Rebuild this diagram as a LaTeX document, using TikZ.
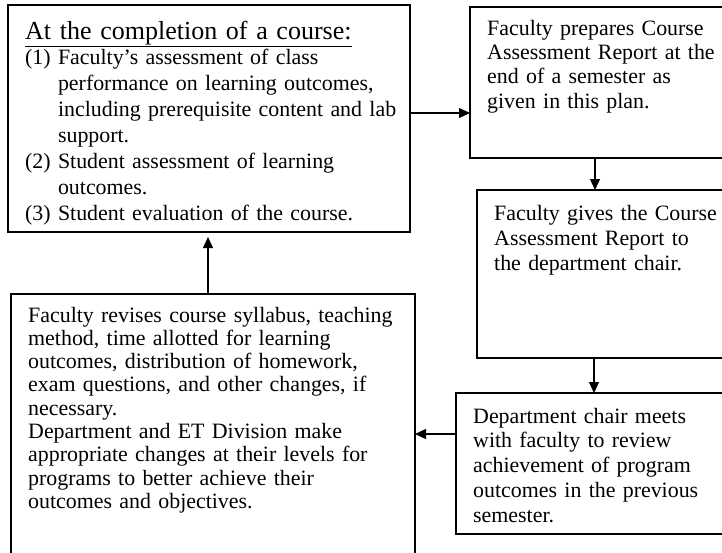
\documentclass[tikz,border=0pt]{standalone}
\usepackage{fontspec}
\setmainfont{Liberation Serif}
\usetikzlibrary{arrows.meta}
\begin{document}
\begin{tikzpicture}[x=1pt,y=-1pt,
  box/.style={draw, line width=1.2pt, rectangle, inner sep=0pt, outer sep=0pt, anchor=north west},
  txt/.style={anchor=base west, inner sep=0pt, align=left, text width=#1},
  arr/.style={line width=1.2pt, -{Triangle[length=11pt,width=10pt]}},
]
\useasboundingbox[fill=white] (0,0) rectangle (722,552);
% boxes
\node[box, minimum width=402pt, minimum height=227pt] (b1) at (8,5) {};
\node[box, minimum width=256pt, minimum height=151pt] (b2) at (470,7) {};
\node[box, minimum width=249pt, minimum height=168pt] (b3) at (477,190) {};
\node[box, minimum width=270pt, minimum height=141pt] (b4) at (456,393) {};
\node[box, minimum width=404pt, minimum height=264pt] (b5) at (11,294) {};
% texts
\node[txt=385pt, font=\fontsize{26}{30}\selectfont] (h1) at (25,39) {\underline{At the completion of a course:}};
\node[txt=385pt, font=\fontsize{21.9}{26}\selectfont] (t1) at (25,64) {(1) Faculty’s assessment of class\\
\phantom{(1)}\ performance on learning outcomes,\\
\phantom{(1)}\ including prerequisite content and lab\\
\phantom{(1)}\ support.\\
(2) Student assessment of learning\\
\phantom{(1)}\ outcomes.\\
(3) Student evaluation of the course.};
\node[txt=240pt, font=\fontsize{21.9}{24.4}\selectfont] (t2) at (487,35) {Faculty prepares Course\\
Assessment Report at the\\
end of a semester as\\
given in this plan.};
\node[txt=230pt, font=\fontsize{21.9}{25}\selectfont] (t3) at (494,220) {Faculty gives the Course\\
Assessment Report to\\
the department chair.};
\node[txt=250pt, font=\fontsize{21.9}{24.8}\selectfont] (t4) at (473,423) {Department chair meets\\
with faculty to review\\
achievement of program\\
outcomes in the previous\\
semester.};
\node[txt=385pt, font=\fontsize{21.9}{23.3}\selectfont] (t5) at (28,322) {Faculty revises course syllabus, teaching\\
method, time allotted for learning\\
outcomes, distribution of homework,\\
exam questions, and other changes, if\\
necessary.\\
Department and ET Division make\\
appropriate changes at their levels for\\
programs to better achieve their\\
outcomes and objectives.};
% connectors
\draw[arr] (b1.east |- 0,113) -- (b2.west |- 0,113);
\draw[arr] (b2.south -| 595,0) -- (b3.north -| 595,0);
\draw[arr] (b3.south -| 594,0) -- (b4.north -| 594,0);
\draw[arr] (b4.west |- 0,434) -- (b5.east |- 0,434);
\draw[arr, shorten >=5pt] (b5.north -| 208,0) -- (b1.south -| 208,0);
\end{tikzpicture}
\end{document}
